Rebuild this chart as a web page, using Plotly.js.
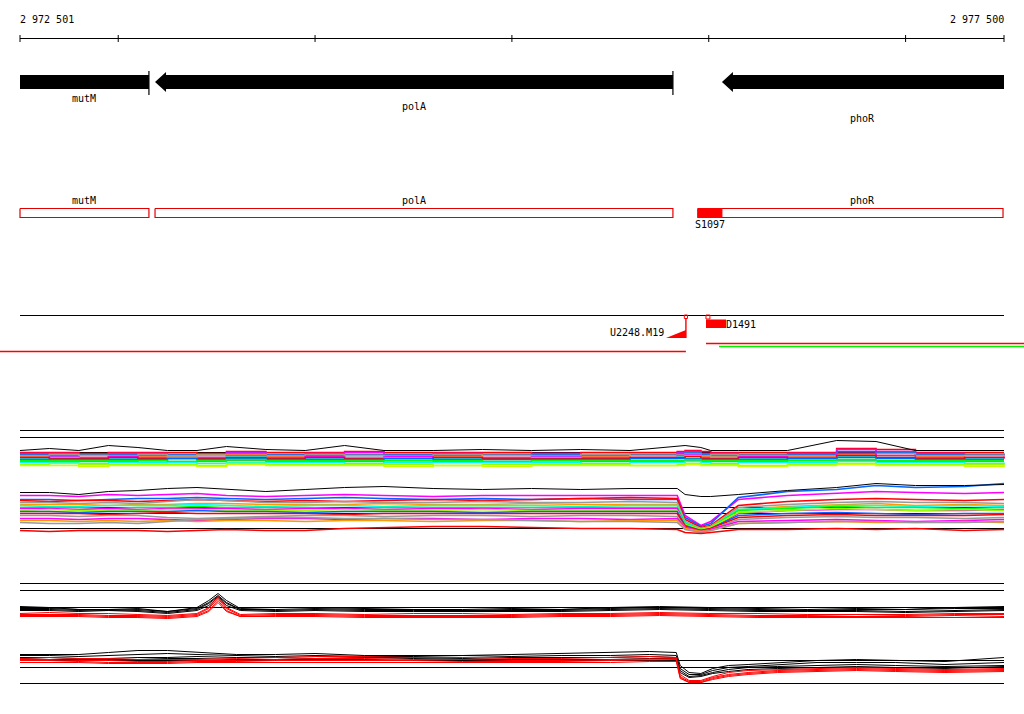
<!DOCTYPE html>
<html><head><meta charset="utf-8">
<script src="https://cdn.plot.ly/plotly-3.0.1.min.js"></script>
<style>html,body{margin:0;padding:0;background:#fff}#chart{width:1024px;height:714px}</style>
</head><body><div id="chart"></div>
<script>
// ---- window / ruler ----
const winStart = 2972501, winEnd = 2977500;
const rulerTicks = [2972501, 2973000, 2974000, 2975000, 2976000, 2977000, 2977500];
const rulerLabels = ["2 972 501", "2 977 500"];

// ---- genes (bp) ----
const geneNames  = ["mutM", "polA", "phoR"];
const geneStart  = [2972100, 2973187, 2976067];
const geneEnd    = [2973156, 2975818, 2978200];
const geneStrand = ["-", "-", "-"];
// transcription units (second track)
const tuNames = ["mutM", "polA", "phoR"];
const tuStart = [2972100, 2973187, 2975945];
const tuEnd   = [2973156, 2975818, 2977495];
const siteName = "S1097", siteStart = 2975945, siteEnd = 2976067;
// third track features
const u2248 = {name: "U2248.M19", pos: 2975884, rampStart: 2975783, lineStart: 2972300};
const d1491 = {name: "D1491", start: 2975986, end: 2976088, lineEnd: 2977700, greenStart: 2976052};

// ---- expression panels: shared positions ----
const posAB = [2972501,2972650,2972800,2972950,2973100,2973250,2973400,2973550,2973750,2973950,2974150,2974350,2974600,2974850,2975100,2975350,2975600,2975840,2975880,2975960,2976010,2976150,2976400,2976650,2976850,2977050,2977300,2977500];
const posC = [2972501,2972650,2972800,2972950,2973100,2973250,2973400,2973460,2973507,2973550,2973620,2973800,2974000,2974250,2974500,2974750,2975000,2975250,2975500,2975750,2976000,2976250,2976500,2976750,2977000,2977250,2977500];
const posD = [2972501,2972650,2972800,2972950,2973100,2973250,2973400,2973600,2973800,2974000,2974250,2974500,2974750,2975000,2975250,2975500,2975700,2975835,2975855,2975900,2975960,2976020,2976100,2976200,2976350,2976550,2976750,2976950,2977200,2977500];

// panel A
const refA = [40, 33, 18];
const aBlack = [20,22,20,25,23,20,20,24,21,20,25,20,20,21,20,21,20,24,25,23,20,20,20,30,29,20,20,20];
const aColors = ["#ff0000","#ff00ff","#0066ff","#999999","#ff9900","#ff00ff","#00ffff","#ff0000","#0066ff","#00ff00","#33cc33","#00ffff","#99ff00","#ccff00"];
const aSeries = [
 [18,18,17,18,18,18,17,19,18,18,19,18,18,18,17,18,18,19,20,19,18,18,18,22,21,18,18,18],
 [17,17,16,17,17,16,16,18,16,17,18,16,17,16,17,16,16,18,19,17,17,16,17,21,19,17,16,17],
 [16,15,16,16,15,16,15,17,16,15,16,16,15,16,16,15,16,17,18,16,15,16,16,19,18,16,16,15],
 [15,16,15,15,16,15,16,16,15,16,15,15,16,15,15,16,15,16,17,15,16,15,15,17,17,15,15,16],
 [14,14,15,14,14,14,15,16,14,14,15,14,14,15,14,14,15,15,16,14,14,15,14,16,15,14,15,14],
 [13,14,13,14,13,13,13,15,13,14,13,14,13,13,14,13,13,15,16,13,13,14,13,17,15,13,13,14],
 [12,13,12,12,12,13,12,14,12,12,13,12,12,12,13,12,12,14,15,12,13,12,12,14,13,12,12,12],
 [13,12,12,13,12,12,12,13,12,13,12,12,13,12,12,12,13,13,14,12,12,13,12,15,13,12,13,12],
 [11,11,11,11,11,12,11,12,11,11,11,12,11,11,11,11,12,12,12,11,11,11,12,13,12,11,11,11],
 [10,10,10,10,10,9,10,11,10,10,10,10,10,9,10,10,10,10,11,10,10,10,10,11,10,10,10,10],
 [9,9,9,9,8,9,9,10,9,9,9,8,9,9,8,9,9,9,10,9,9,9,8,10,9,9,9,9],
 [8,8,7,8,8,8,7,8,8,8,7,8,8,8,8,7,8,8,9,8,7,8,8,9,8,8,7,8],
 [6,7,6,6,6,6,5,7,6,6,6,6,5,6,6,6,5,6,7,6,6,5,6,7,6,6,6,5],
 [5,5,4,5,5,5,4,6,5,5,5,4,5,4,5,5,5,5,6,5,5,4,5,6,5,5,4,5]
];

// panel B
const refB = [28, 22, 7];
const bBlack = [43,43,41,44,45,47,48,46,44,46,48,49,47,46,47,46,47,47,41,39,39,41,45,48,52,50,50,51];
const bColors = ["#ff00ff","#0066ff","#ff0000","#999999","#ff9900","#00ffff","#00ff00","#ff00ff","#99ff00","#0066ff","#ff0000","#999999","#ff00ff","#ff9900","#999999","#ff0000"];
const bSeries = [
 [40,40,39,41,40,41,42,40,39,40,41,40,39,40,40,40,40,40,20,10,14,36,40,42,44,43,42,43],
 [36,36,35,36,37,37,38,37,36,37,38,37,36,37,36,37,36,36,18,9,12,38,44,46,50,48,49,52],
 [35,34,35,35,34,35,36,35,34,35,34,35,36,35,36,37,38,37,16,8,10,30,34,36,37,36,35,36],
 [33,33,32,33,32,34,36,35,33,33,34,33,33,34,33,33,34,33,14,7,9,28,31,33,34,33,33,32],
 [31,31,31,30,31,31,32,32,31,31,31,32,31,31,32,31,31,31,12,7,9,26,29,31,32,30,31,30],
 [30,29,29,30,30,30,31,30,29,30,30,29,30,30,30,29,30,30,13,6,8,26,28,30,30,29,30,29],
 [28,28,28,27,28,28,29,28,28,28,27,28,28,28,28,28,28,28,12,6,8,25,27,29,28,28,27,28],
 [27,27,26,27,26,27,27,27,26,27,27,26,27,27,26,27,27,27,10,5,7,22,25,26,26,25,25,26],
 [25,26,25,25,25,26,26,25,25,25,26,25,25,26,25,25,25,25,11,6,8,23,25,27,26,25,26,25],
 [24,24,23,24,24,24,25,24,24,23,24,24,24,23,24,24,24,24,10,5,7,20,22,23,22,21,22,22],
 [22,22,22,21,22,23,22,22,22,22,21,22,22,22,22,22,22,22,9,5,7,18,20,21,20,20,20,21],
 [20,20,19,20,20,18,17,18,19,20,20,19,20,20,19,20,20,19,8,4,6,16,18,19,18,18,17,18],
 [17,17,16,17,17,16,15,16,17,17,16,17,17,16,17,17,16,17,8,4,6,14,15,16,15,14,15,16],
 [15,15,14,15,14,15,14,15,15,14,15,15,14,15,15,14,15,15,7,4,5,12,13,14,13,13,14,13],
 [13,12,12,13,12,14,16,17,18,18,17,17,16,16,15,14,14,13,6,3,5,12,13,14,14,13,13,14],
 [5,4,5,5,5,4,5,6,5,5,7,8,9,9,8,7,7,6,3,2,3,6,6,7,6,7,5,6]
];

// panel C
const refC = [42, 35, 18];
const cBlackSeries = [
 [19,18,16,16,17,14,18,25,32,25,17,18,18,17,16,16,17,16,18,19,18,17,16,17,16,18,19],
 [17,17,16,15,16,14,17,23,30,23,16,16,17,16,16,15,16,16,17,18,17,16,15,16,16,17,17],
 [16,16,15,16,15,13,16,22,29,22,16,15,16,15,15,15,15,15,16,17,16,15,15,15,14,15,16],
 [15,15,14,15,14,12,15,20,28,20,15,14,15,14,14,14,14,14,15,16,15,14,14,14,13,14,15]
];
const cRedSeries = [
 [12,13,12,12,11,10,12,18,29,18,11,12,12,11,12,12,11,12,12,13,12,12,11,11,11,12,12],
 [11,11,11,10,10,9,11,17,27,17,10,11,11,10,10,10,10,11,11,12,11,10,10,9,10,11,11],
 [10,10,10,9,9,8,10,15,25,15,9,10,10,9,9,9,9,10,10,11,10,9,9,9,9,10,9],
 [9,9,9,8,8,7,9,14,23,14,9,9,9,8,8,8,8,9,9,10,9,8,8,8,8,8,8]
];

// panel D
const refD = [30, 23, 7];
const dBlackSeries = [
 [36,36,36,38,40,40,38,36,36,37,35,35,35,36,37,38,39,38,25,18,17,22,25,26,28,30,31,30,29,33],
 [35,35,34,35,36,37,36,35,34,35,34,34,35,34,35,35,36,35,22,16,16,20,23,24,26,28,28,28,26,28],
 [33,33,32,32,33,33,34,33,33,32,33,33,32,33,33,33,34,33,20,14,15,18,21,23,24,25,26,25,24,25],
 [32,31,31,31,31,32,32,31,31,31,31,32,31,31,31,31,32,32,18,13,14,17,19,21,22,23,24,23,22,24]
];
const dRedSeries = [
 [32,33,32,32,31,31,31,32,33,34,34,33,33,32,32,33,34,33,16,10,10,14,18,20,21,22,23,22,21,22],
 [31,31,30,30,29,29,30,30,31,32,32,31,31,30,30,31,32,32,14,9,9,13,16,18,20,21,22,21,20,21],
 [30,30,29,28,28,28,29,29,30,30,30,30,29,29,29,30,31,31,13,8,8,12,15,17,19,20,21,20,19,20],
 [28,28,28,27,27,27,28,28,28,28,28,28,28,28,28,28,29,29,12,8,8,11,14,16,18,19,20,19,18,19]
];

// ================= drawing =================
const W = 1024, H = 714;
const pxPerBp = (1004 - 20) / (winEnd - winStart);
const xr0 = winStart - 20 / pxPerBp, xr1 = winEnd + 20 / pxPerBp;
const FONT = {family: "DejaVu Sans Mono, monospace", size: 10, color: "#000"};
const traces = [];
const annotations = [];
const clip = v => Math.max(winStart, Math.min(winEnd, v));

function line(xs, ys, color, width, yaxis, shape) {
  traces.push({type: "scatter", mode: "lines", x: xs, y: ys, yaxis: yaxis || "y",
    line: {color: color, width: width || 1, shape: shape || "linear"}, hoverinfo: "skip", showlegend: false});
}
function poly(xs, ys, fill, lineColor, lw) {
  traces.push({type: "scatter", mode: "lines", x: xs, y: ys, fill: "toself", fillcolor: fill,
    line: {color: lineColor || fill, width: lw === undefined ? 0 : lw}, hoverinfo: "skip", showlegend: false});
}
function label(x, y, text) {
  annotations.push({x: x, y: y, xref: "x", yref: "y", text: text, showarrow: false, font: FONT,
    xanchor: "center", yanchor: "middle"});
}

// ruler
line([winStart, winEnd], [38.5, 38.5], "#000", 1);
rulerTicks.forEach(t => line([t, t], [35, 42], "#000", 1));
annotations.push({x: winStart, y: 19, xref: "x", yref: "y", text: rulerLabels[0], showarrow: false, font: FONT, xanchor: "left", yanchor: "middle", xshift: -2});
annotations.push({x: winEnd, y: 19, xref: "x", yref: "y", text: rulerLabels[1], showarrow: false, font: FONT, xanchor: "right", yanchor: "middle", xshift: 2});

// gene arrows
const headBp = 11 / pxPerBp;
const geneLabelY = [98, 106, 118];
geneNames.forEach((g, i) => {
  const s = geneStart[i], e = geneEnd[i];
  const cs = clip(s), ce = clip(e);
  if (s >= winStart) {
    const hb = s + headBp;
    poly([s, hb, hb, ce, ce, hb, hb, s], [82, 72, 75, 75, 89, 89, 92, 82], "#000");
  } else {
    poly([cs, ce, ce, cs, cs], [75, 75, 89, 89, 75], "#000");
  }
  if (e <= winEnd) line([e, e], [71, 95], "#000", 1.2);
  label((cs + ce) / 2, geneLabelY[i], g);
});

// transcription unit boxes (labels centred on the genes)
tuNames.forEach((g, i) => {
  const cs = clip(tuStart[i]), ce = clip(tuEnd[i]);
  poly([cs, ce, ce, cs, cs], [208.5, 208.5, 217.5, 217.5, 208.5], "rgba(255,255,255,0)", "#e00000", 1.2);
  const gi = geneNames.indexOf(g);
  label((clip(geneStart[gi]) + clip(geneEnd[gi])) / 2, 200, g);
});
poly([siteStart, siteEnd, siteEnd, siteStart, siteStart], [208.5, 208.5, 217.5, 217.5, 208.5], "#ff0000", "#ff0000", 1);
label((siteStart + siteEnd) / 2, 224, siteName);

// third track
line([winStart, winEnd], [315.5, 315.5], "#000", 1);
// U2248.M19
line([u2248.pos, u2248.pos], [318, 338], "#ff0000", 1.4);
poly([u2248.pos - 8, u2248.pos + 8, u2248.pos + 8, u2248.pos - 8, u2248.pos - 8], [315, 315, 318.5, 318.5, 315], "rgba(255,255,255,0)", "#ff0000", 1);
poly([u2248.rampStart, u2248.pos, u2248.pos, u2248.rampStart], [338, 338, 330, 338], "#ff0000");
annotations.push({x: u2248.rampStart, y: 332, xref: "x", yref: "y", text: u2248.name, showarrow: false, font: FONT, xanchor: "right", yanchor: "middle"});
line([u2248.lineStart, u2248.pos], [351.5, 351.5], "#ff0000", 1.5);
// D1491
poly([d1491.start, d1491.start + 20, d1491.start + 20, d1491.start, d1491.start], [315, 315, 319, 319, 315], "rgba(255,255,255,0)", "#ff0000", 1);
poly([d1491.start, d1491.end, d1491.end, d1491.start, d1491.start], [319.5, 319.5, 328, 328, 319.5], "#ff0000");
annotations.push({x: d1491.end, y: 324, xref: "x", yref: "y", text: d1491.name, showarrow: false, font: FONT, xanchor: "left", yanchor: "middle", xshift: -2});
line([d1491.start, d1491.lineEnd], [343.5, 343.5], "#ff0000", 1.5);
line([d1491.greenStart, d1491.lineEnd], [346.5, 346.5], "#00ee00", 1.5);

// expression panels
function refs(levels, ax) { levels.forEach(v => line([winStart, winEnd], [v, v], "#000", 1, ax)); }
refs(refA, "y2");
aSeries.forEach((s, i) => line(posAB, s, aColors[i], 1.6, "y2", "hv"));
line(posAB, aBlack, "#000", 1, "y2");

refs(refB, "y3");
bSeries.forEach((s, i) => line(posAB, s, bColors[i], 1.6, "y3"));
line(posAB, bBlack, "#000", 1, "y3");

refs(refC, "y4");
cBlackSeries.forEach(s => line(posC, s, "#000", 1, "y4"));
cRedSeries.forEach(s => line(posC, s, "#ff0000", 1, "y4"));

refs(refD, "y5");
dBlackSeries.forEach(s => line(posD, s, "#000", 1, "y5"));
dRedSeries.forEach(s => line(posD, s, "#ff0000", 1, "y5"));

const dom = (top, bottom) => [1 - (bottom + 0.5) / H, 1 - (top + 0.5) / H];
const hid = {visible: false, showgrid: false, zeroline: false, fixedrange: true};
const layout = {
  width: W, height: H, margin: {l: 0, r: 0, t: 0, b: 0},
  paper_bgcolor: "#fff", plot_bgcolor: "rgba(0,0,0,0)", showlegend: false,
  xaxis: Object.assign({range: [xr0, xr1], domain: [0, 1]}, hid),
  yaxis: Object.assign({range: [H, 0], domain: [0, 1]}, hid),
  yaxis2: Object.assign({range: [0, 45], domain: dom(425, 470), anchor: "x"}, hid),
  yaxis3: Object.assign({range: [0, 55], domain: dom(480, 535), anchor: "x"}, hid),
  yaxis4: Object.assign({range: [0, 45], domain: dom(580, 625), anchor: "x"}, hid),
  yaxis5: Object.assign({range: [0, 45], domain: dom(645, 690), anchor: "x"}, hid),
  annotations: annotations
};
Plotly.newPlot("chart", traces, layout, {staticPlot: true, displayModeBar: false});
</script></body></html>
